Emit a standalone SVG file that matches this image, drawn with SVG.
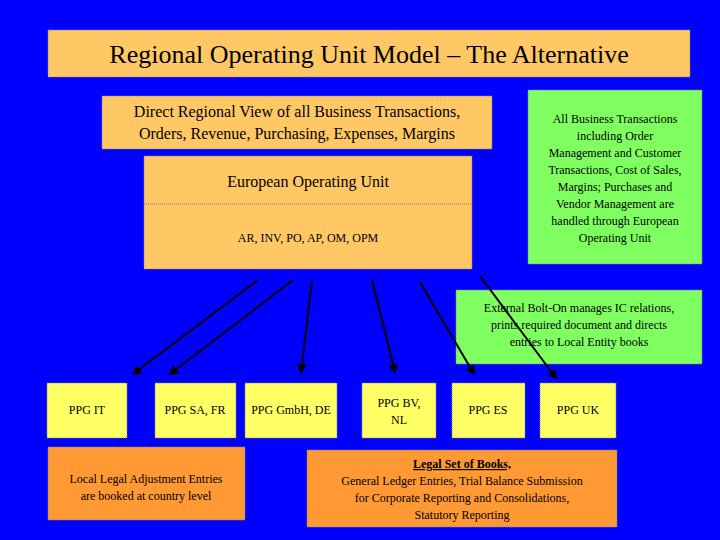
<svg xmlns="http://www.w3.org/2000/svg" width="720" height="540" viewBox="0 0 720 540" font-family="Liberation Serif, Times New Roman, serif">
<defs>
<style>
text{font-family:'Liberation Serif','Times New Roman',serif;fill:#000;text-anchor:middle}
.o{fill:#ffc864;stroke:#808080;stroke-width:1;stroke-dasharray:1 1}
.g{fill:#80ff60;stroke:#808080;stroke-width:1;stroke-dasharray:1 1}
.y{fill:#ffff66;stroke:#808080;stroke-width:1;stroke-dasharray:1 1}
.d{fill:#ff9933;stroke:#808080;stroke-width:1;stroke-dasharray:1 1}
.s{font-size:12px}
.a{stroke:#000;stroke-width:2;fill:none;marker-end:url(#ah)}
</style>
<marker id="ah" viewBox="0 0 10 10" refX="8" refY="5" markerWidth="5" markerHeight="5" orient="auto"><path d="M0,0L10,5L0,10z" fill="#000"/></marker>
</defs>
<rect width="720" height="540" fill="#0000ff"/>
<g id="title"><rect class="o" x="48" y="30" width="642" height="47"/><text x="369" y="63" font-size="26">Regional Operating Unit Model – The Alternative</text></g>
<g id="direct"><rect class="o" x="102" y="96" width="390" height="53"/><text x="297" y="117" font-size="16">Direct Regional View of all Business Transactions,</text><text x="297" y="139" font-size="16">Orders, Revenue, Purchasing, Expenses, Margins</text></g>
<g id="eou"><rect class="o" x="144" y="156" width="328" height="113"/><line x1="144" y1="204" x2="472" y2="204" stroke="#808080" stroke-dasharray="1 1"/><text x="308" y="187" font-size="16">European Operating Unit</text><text x="308" y="242" class="s">AR, INV, PO, AP, OM, OPM</text></g>
<g id="note1"><rect class="g" x="528" y="90" width="174" height="174"/>
<text class="s" x="615" y="123">All Business Transactions</text><text class="s" x="615" y="140">including Order</text><text class="s" x="615" y="157">Management and Customer</text><text class="s" x="615" y="174">Transactions, Cost of Sales,</text><text class="s" x="615" y="191">Margins; Purchases and</text><text class="s" x="615" y="208">Vendor Management are</text><text class="s" x="615" y="225">handled through European</text><text class="s" x="615" y="242">Operating Unit</text></g>
<g id="note2"><rect class="g" x="456" y="290" width="246" height="74"/><text class="s" x="579" y="312">External Bolt-On manages IC relations,</text><text class="s" x="579" y="329">prints required document and directs</text><text class="s" x="579" y="346">entries to Local Entity books</text></g>
<g id="it"><rect class="y" x="47" y="383" width="80" height="55"/><text class="s" x="87" y="414">PPG IT</text></g>
<g id="fr"><rect class="y" x="155" y="383" width="81" height="55"/><text class="s" x="195" y="414">PPG SA, FR</text></g>
<g id="de"><rect class="y" x="245" y="383" width="92" height="55"/><text class="s" x="291" y="414">PPG GmbH, DE</text></g>
<g id="nl"><rect class="y" x="362" y="383" width="74" height="55"/><text class="s" x="399" y="407">PPG BV,</text><text class="s" x="399" y="424">NL</text></g>
<g id="es"><rect class="y" x="452" y="383" width="73" height="55"/><text class="s" x="488" y="414">PPG  ES</text></g>
<g id="uk"><rect class="y" x="540" y="383" width="76" height="55"/><text class="s" x="578" y="414">PPG UK</text></g>
<g id="local"><rect class="d" x="48" y="447" width="197" height="73"/><text class="s" x="146" y="483">Local Legal Adjustment Entries</text><text class="s" x="146" y="500">are booked at country level</text></g>
<g id="legal"><rect class="d" x="307" y="450" width="310" height="77"/><text class="s" x="462" y="468" font-weight="bold" text-decoration="underline">Legal Set of Books,</text><text class="s" x="462" y="485">General Ledger Entries, Trial Balance Submission</text><text class="s" x="462" y="502">for Corporate Reporting and Consolidations,</text><text class="s" x="462" y="519">Statutory Reporting</text></g>
<g id="connectors">
<line class="a" x1="258" y1="280" x2="133" y2="374"/>
<line class="a" x1="293" y1="280" x2="170" y2="374"/>
<line class="a" x1="312" y1="280" x2="301" y2="372"/>
<line class="a" x1="372" y1="280" x2="395" y2="372"/>
<line class="a" x1="420" y1="282" x2="474" y2="374"/>
<line class="a" x1="480" y1="276" x2="556" y2="378"/>
</g>
</svg>
